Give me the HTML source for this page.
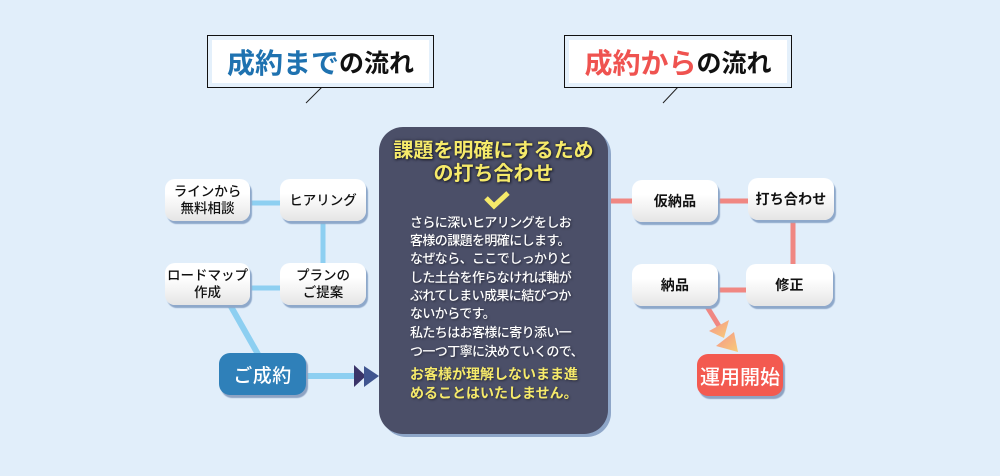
<!DOCTYPE html>
<html lang="ja">
<head>
<meta charset="utf-8">
<style>
  html, body { margin:0; padding:0; }
  body {
    width:1000px; height:476px; overflow:hidden; position:relative;
    background:#e1eefa;
    font-family:"Liberation Sans","Noto Sans CJK JP",sans-serif;
  }
  .abs { position:absolute; }
  .title {
    position:absolute; border:1px solid #111; background:#e4f0fb; box-sizing:border-box;
  }
  .title .in {
    position:absolute; left:4px; right:4px; top:4px; bottom:4px; background:#fff;
    display:flex; align-items:center; justify-content:center;
    font-weight:bold; white-space:nowrap;
  }
  .node {
    position:absolute; box-sizing:border-box; border-radius:10px;
    background:linear-gradient(#ffffff 35%, #e5e5e5 100%);
    box-shadow:2px 3px 1px #8ea8ca;
    display:flex; align-items:center; justify-content:center; text-align:center;
    color:#111; white-space:nowrap;
  }
  .ln { font-size:13.5px; line-height:17px; letter-spacing:0; font-weight:500; }
  .rn { font-size:14px; font-weight:bold; letter-spacing:0.2px; }
  .big {
    position:absolute; border-radius:11px; color:#fff; font-weight:500;
    display:flex; align-items:center; justify-content:center;
    box-shadow:2px 3px 1px #8ea3c3; white-space:nowrap;
  }
  .dark {
    position:absolute; left:379px; top:127px; width:229px; height:307px;
    background:#4b4f68; border-radius:24px; box-shadow:3px 3px 0 #8ea6c8;
  }
  .yt {
    position:absolute; left:379px; width:229px; text-align:center; color:#f6ea6a;
    font-size:20px; font-weight:bold; line-height:23px; white-space:nowrap;
    text-shadow:0 0 3px #1d1f2e, 1px 1px 2px #1d1f2e;
  }
  .wt {
    position:absolute; left:410px; color:#fff; font-size:13px; line-height:18px; font-weight:500;
    letter-spacing:-0.6px; white-space:nowrap; text-shadow:1px 1px 2px #2a2c3c;
  }
  .yb {
    position:absolute; left:410px; color:#f6ea6a; font-size:14px; font-weight:bold;
    line-height:19px; white-space:nowrap; text-shadow:1px 1px 2px #2a2c3c;
  }
</style>
</head>
<body>

<svg class="abs" style="left:0;top:0" width="1000" height="476" viewBox="0 0 1000 476">
  <defs>
    <linearGradient id="ag" x1="0" y1="0" x2="1" y2="1">
      <stop offset="0" stop-color="#f5948a"/>
      <stop offset="1" stop-color="#f8cc78"/>
    </linearGradient>
  </defs>
  <!-- title tails -->
  <line x1="322" y1="87" x2="306" y2="103" stroke="#222" stroke-width="1"/>
  <line x1="678" y1="87" x2="663" y2="103" stroke="#222" stroke-width="1"/>

  <!-- blue connectors -->
  <g stroke="#8dcff1" stroke-width="5" fill="none">
    <line x1="248" y1="203" x2="282" y2="203"/>
    <line x1="323" y1="219" x2="323" y2="265"/>
    <line x1="248" y1="288" x2="282" y2="288"/>
    <line x1="229" y1="303" x2="259" y2="356" stroke-width="6"/>
    <line x1="304" y1="376" x2="356" y2="376" stroke-width="6"/>
  </g>
  <polygon points="354,365 366,376 354,387" fill="#3a3468"/>
  <polygon points="364,366 379,376 364,387" fill="#40558f"/>

  <!-- red connectors -->
  <g stroke="#f08782" stroke-width="5" fill="none">
    <line x1="606" y1="201" x2="634" y2="201"/>
    <line x1="716" y1="201" x2="750" y2="201"/>
    <line x1="793" y1="218" x2="793" y2="266"/>
    <line x1="716" y1="290" x2="748" y2="290"/>
    <line x1="706" y1="305" x2="722" y2="331"/>
  </g>
  <polygon points="729,320 724,338 709,331" fill="url(#ag)"/>
  <polygon points="734,332 738,352 716,346" fill="url(#ag)"/>
</svg>

<!-- Titles -->
<div class="title" style="left:207px;top:35px;width:227px;height:53px;">
  <div class="in"><span style="color:#1f72b0;font-size:28px;">成約まで</span><span style="color:#111;font-size:25px;">の流れ</span></div>
</div>
<div class="title" style="left:564px;top:35px;width:228px;height:53px;">
  <div class="in"><span style="color:#ef5350;font-size:28px;">成約から</span><span style="color:#111;font-size:25px;">の流れ</span></div>
</div>

<!-- Left nodes -->
<div class="node ln" style="left:165px;top:179px;width:85px;height:42px;">ラインから<br>無料相談</div>
<div class="node ln" style="left:280px;top:179px;width:86px;height:42px;">ヒアリング</div>
<div class="node ln" style="left:165px;top:263px;width:85px;height:42px;">ロードマップ<br>作成</div>
<div class="node ln" style="left:280px;top:263px;width:86px;height:42px;">プランの<br>ご提案</div>

<div class="big" style="left:219px;top:353px;width:87px;height:42px;background:#2f80b9;font-size:19px;letter-spacing:0.5px;">ご成約</div>

<!-- Center box -->
<div class="dark"></div>
<div class="yt" style="top:140px;">課題を明確にするため</div>
<div class="yt" style="top:163px;">の打ち合わせ</div>
<svg class="abs" style="left:483px;top:190px" width="28" height="20" viewBox="0 0 28 20">
  <polyline points="3,8 11,16 25,3" fill="none" stroke="#f6ea6a" stroke-width="5" stroke-linejoin="miter"/>
</svg>

<div class="wt" style="top:214px;">さらに深いヒアリングをしお</div>
<div class="wt" style="top:232px;">客様の課題を明確にします。</div>
<div class="wt" style="top:250px;">なぜなら、ここでしっかりと</div>
<div class="wt" style="top:269px;">した土台を作らなければ軸が</div>
<div class="wt" style="top:287px;">ぶれてしまい成果に結びつか</div>
<div class="wt" style="top:305px;">ないからです。</div>
<div class="wt" style="top:324px;">私たちはお客様に寄り添い一</div>
<div class="wt" style="top:343px;">つ一つ丁寧に決めていくので、</div>
<div class="yb" style="top:365px;">お客様が理解しないまま進</div>
<div class="yb" style="top:384px;">めることはいたしません。</div>

<!-- Right nodes -->
<div class="node rn" style="left:632px;top:180px;width:86px;height:42px;">仮納品</div>
<div class="node rn" style="left:748px;top:178px;width:86px;height:42px;">打ち合わせ</div>
<div class="node rn" style="left:632px;top:264px;width:86px;height:42px;">納品</div>
<div class="node rn" style="left:746px;top:264px;width:87px;height:42px;">修正</div>

<div class="big" style="left:697px;top:354px;width:86px;height:42px;background:#f35a50;font-size:20px;">運用開始</div>

</body>
</html>
